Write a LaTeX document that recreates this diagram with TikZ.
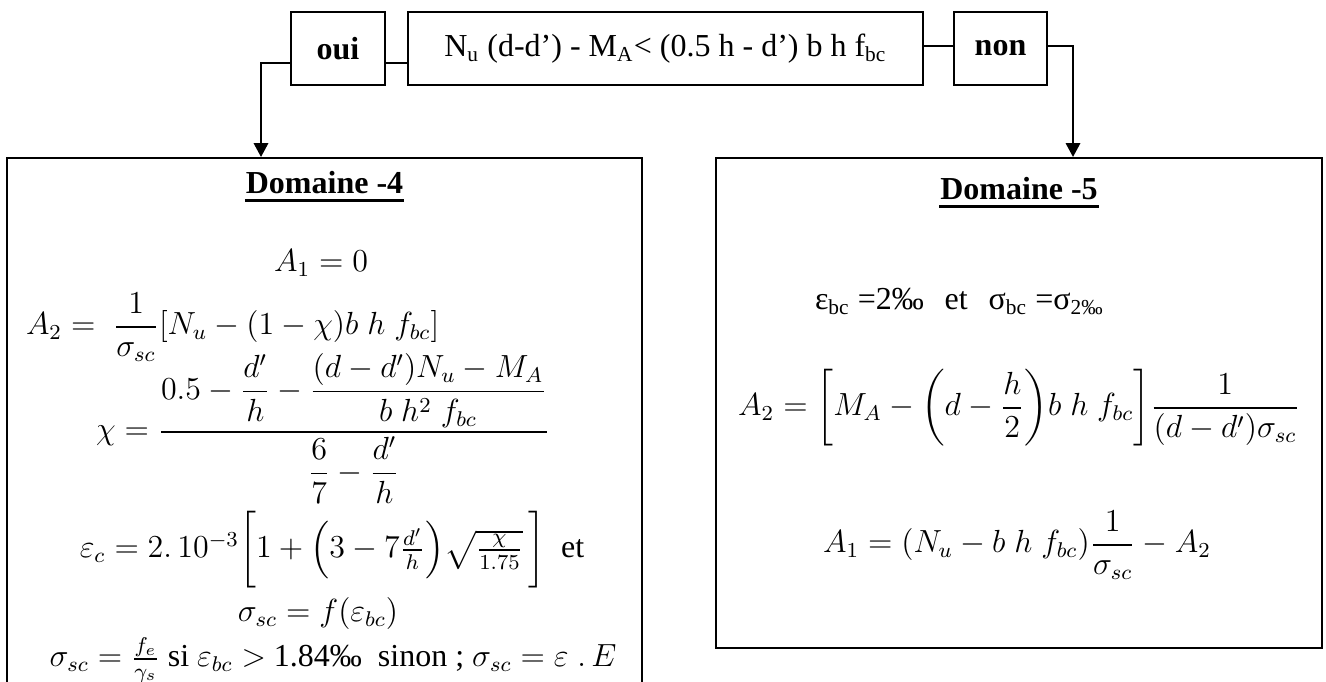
\documentclass[tikz,border=0pt]{standalone}
\usepackage{amsmath}
\usepackage{fontspec}
\setmainfont{Liberation Serif}
\usetikzlibrary{arrows.meta}

\begin{document}
\begin{tikzpicture}[x=0.375pt,y=-0.375pt,>={Triangle[width=5.4pt,length=5.2pt]},
  line width=0.75pt,font=\fontsize{12}{14.4}\selectfont,
  boite/.style={draw,rectangle,inner sep=0pt,minimum height=27.4pt},
  domaine/.style={draw,rectangle,inner sep=0pt},
  titre/.style={anchor=base,inner sep=0pt,font=\fontsize{12}{14.4}\selectfont\bfseries},
  eq/.style={anchor=base,inner sep=0pt},
  souligne/.style={line width=1.1pt}]
\useasboundingbox (0,0) rectangle (1326,682);

% test en haut
\node[boite,minimum width=35.25pt,font=\fontsize{12}{14.4}\selectfont\bfseries] (oui) at (338,48.5) {oui};
\node[boite,minimum width=193.1pt] (test) at (665.5,48.5)
  {N\textsubscript{u} (d-d’) - M\textsubscript{A}< (0.5 h - d’) b h f\textsubscript{bc}};
\node[boite,minimum width=34.9pt,font=\fontsize{12}{14.4}\selectfont\bfseries] (non) at (1000.5,48.5) {non};

% les deux domaines
\node[domaine,minimum width=238.1pt,minimum height=198pt] (dom4) at (324.5,422) {};
\node[domaine,minimum width=227.25pt,minimum height=183.75pt] (dom5) at (1019,403) {};

\coordinate (kl) at (261,63);
\coordinate (kr) at (1073,46);
\draw (oui.east |- kl) -- (test.west |- kl);
\draw (test.east |- kr) -- (non.west |- kr);
\draw[->] (oui.west |- kl) -- (kl) -- (kl |- dom4.north);
\draw[->] (non.east |- kr) -- (kr) -- (kr |- dom5.north);

% domaine 4
\node[titre] (t4) at (324.5,194) {Domaine -4};
\draw[souligne] ([yshift=-2.4pt]t4.base west) -- ([yshift=-2.4pt]t4.base east);
\node[eq] (a1g) at (321,272) {$A_1 = 0$};
\node[eq,anchor=base west] (a2g) at (25,335)
  {$A_2 =\;\dfrac{1}{\sigma_{sc}}[N_u - (1-\chi)b\;h\;f_{bc}]$};
\node[eq] (chi) at (323,440)
  {$\chi = \dfrac{0.5 - \dfrac{d'}{h} - \dfrac{(d-d')N_u - M_A}{b\;h^2\;f_{bc}}}{\dfrac{6}{7} - \dfrac{d'}{h}}$};
\node[eq] (epsg) at (332,558)
  {$\varepsilon_c = 2.\,10^{-3}\biggl[1+\Bigl(3-7\tfrac{d'}{h}\Bigr)\sqrt{\tfrac{\chi}{1.75}}\,\biggr]$\enspace et};
\node[eq] (sigf) at (318,622) {$\sigma_{sc} = f(\varepsilon_{bc})$};
\node[eq] (sigc) at (333,667)
  {$\sigma_{sc} = \tfrac{f_e}{\gamma_s}$ si $\varepsilon_{bc} >$ 1.84‰\enspace sinon ; $\sigma_{sc} = \varepsilon\;.\,E$};

% domaine 5
\node[titre] (t5) at (1019,200) {Domaine -5};
\draw[souligne] ([yshift=-2.4pt]t5.base west) -- ([yshift=-2.4pt]t5.base east);
\node[eq,anchor=base west] (eps5) at (814,310)
  {ε\textsubscript{bc} =2‰\hspace{0.65em}et\hspace{0.65em}σ\textsubscript{bc} =σ\textsubscript{2‰}};
\node[eq] (a2d) at (1019,416)
  {$A_2 = \biggl[M_A - \biggl(d - \dfrac{h}{2}\biggr) b\;h\;f_{bc}\biggr]\dfrac{1}{(d-d')\sigma_{sc}}$};
\node[eq] (a1d) at (1017,553)
  {$A_1 = (N_u - b\;h\;f_{bc})\dfrac{1}{\sigma_{sc}} - A_2$};
\end{tikzpicture}
\end{document}
